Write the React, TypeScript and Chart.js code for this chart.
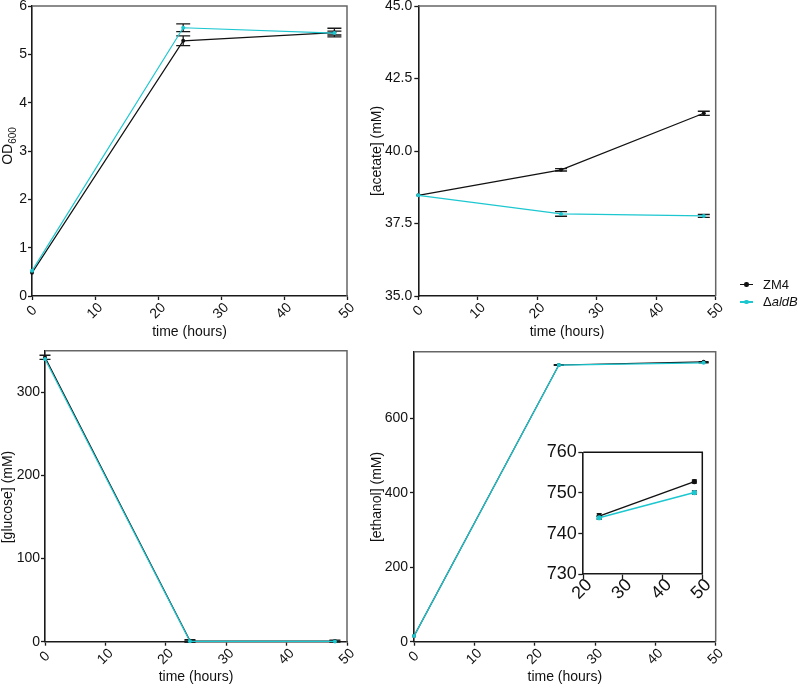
import React, { useEffect, useRef } from "react";
import { Chart, registerables } from "chart.js";

Chart.register(...registerables);

// ---------- data ----------
const TIME = [0, 24, 48];
const INSET_TIME = [24, 48];

const OD_ZM4 = [0.48, 5.28, 5.45];
const OD_ZM4_ERR = [0, 0.1, 0.09];
const OD_ALDB = [0.52, 5.55, 5.44];
const OD_ALDB_ERR = [0, 0.08, 0.04];

const ACE_ZM4 = [38.47, 39.35, 41.3];
const ACE_ZM4_ERR = [0, 0.04, 0.07];
const ACE_ALDB = [38.47, 37.83, 37.76];
const ACE_ALDB_ERR = [0, 0.08, 0.05];

const GLU_ZM4 = [342, 1.0, 0.8];
const GLU_ZM4_ERR = [2.5, 1.5, 1.0];
const GLU_ALDB = [340, 0.4, 0.3];
const GLU_ALDB_ERR = [0, 0.5, 0.4];

const ETH_ZM4 = [15, 744.3, 752.8];
const ETH_ZM4_ERR = [0, 0.8, 0.5];
const ETH_ALDB = [15, 743.9, 750.1];
const ETH_ALDB_ERR = [0, 0.6, 0.4];

const INSET_ZM4 = [744.3, 752.8];
const INSET_ZM4_ERR = [0.6, 0.4];
const INSET_ALDB = [743.9, 750.1];
const INSET_ALDB_ERR = [0.4, 0.4];

const X_TICKS = [0, 10, 20, 30, 40, 50];
const INSET_X_TICKS = [20, 30, 40, 50];
const OD_Y_TICKS = [0, 1, 2, 3, 4, 5, 6];
const ACE_Y_TICKS = [35, 37.5, 40, 42.5, 45];
const GLU_Y_TICKS = [0, 100, 200, 300];
const ETH_Y_TICKS = [0, 200, 400, 600];
const INSET_Y_TICKS = [730, 740, 750, 760];

const SERIES_NAMES = ["ZM4", "ΔaldB"];
const X_TITLE = "time (hours)";

const FONT = "'Liberation Sans', Arial, Helvetica, sans-serif";
const TEXT = "#111111";
const BLACK = "#111111";
const CYAN = "#1cc7d0";

type Series = { label: string; time: number[]; values: number[]; errors: number[]; color: string; order: number };
type Cfg = {
  canvas: { x: number; y: number; w: number; h: number };
  plot: { l: number; t: number; r: number; b: number };
  xMin: number; xMax: number; xTicks: number[];
  yMin: number; yMax: number; yTicks: number[];
  yDecimals: number;
  series: Series[];
  yTitle?: string; yTitleSub?: string; yTitleX?: number; yTitleY?: number;
  xTitle?: string; xTitleY?: number;
  fontSize: number;
  tickLen: number; yTickPad: number;
  cap: number; pointRadius: number; lineWidth: number;
  boxColor: string; xLabelDx: number; xLabelDy: number;
};

function mkSeries(time: number[], z: number[], ze: number[], a: number[], ae: number[]): Series[] {
  return [
    { label: SERIES_NAMES[0], time, values: z, errors: ze, color: BLACK, order: 1 },
    { label: SERIES_NAMES[1], time, values: a, errors: ae, color: CYAN, order: 0 },
  ];
}

const MAIN = {
  fontSize: 14, tickLen: 4, pointRadius: 2, lineWidth: 1.2, boxColor: "#666666",
  xLabelDx: 0, xLabelDy: 15, xMin: 0, xMax: 50, xTicks: X_TICKS, xTitle: X_TITLE,
};

const PANELS: Cfg[] = [
  {
    ...MAIN,
    canvas: { x: 0, y: -20, w: 370, h: 363 },
    plot: { l: 32, t: 6, r: 347, b: 296 },
    yMin: 0, yMax: 6, yTicks: OD_Y_TICKS, yDecimals: 0,
    series: mkSeries(TIME, OD_ZM4, OD_ZM4_ERR, OD_ALDB, OD_ALDB_ERR),
    yTitle: "OD", yTitleSub: "600", yTitleX: 8, yTitleY: 146, xTitleY: 332,
    yTickPad: 1, cap: 7,
  },
  {
    ...MAIN,
    canvas: { x: 360, y: -20, w: 380, h: 363 },
    plot: { l: 418.3, t: 6, r: 715.7, b: 296 },
    yMin: 35, yMax: 45, yTicks: ACE_Y_TICKS, yDecimals: 1,
    series: mkSeries(TIME, ACE_ZM4, ACE_ZM4_ERR, ACE_ALDB, ACE_ALDB_ERR),
    yTitle: "[acetate] (mM)", yTitleX: 377, yTitleY: 151, xTitleY: 332,
    yTickPad: 2, cap: 6,
  },
  {
    ...MAIN,
    canvas: { x: 0, y: 330, w: 370, h: 356 },
    plot: { l: 45, t: 350.7, r: 347, b: 641.7 },
    yMin: 0, yMax: 350, yTicks: GLU_Y_TICKS, yDecimals: 0,
    series: mkSeries(TIME, GLU_ZM4, GLU_ZM4_ERR, GLU_ALDB, GLU_ALDB_ERR),
    yTitle: "[glucose] (mM)", yTitleX: 8, yTitleY: 497, xTitleY: 677,
    yTickPad: 1, cap: 5.5,
  },
  {
    ...MAIN,
    canvas: { x: 360, y: 330, w: 380, h: 356 },
    plot: { l: 414, t: 351.7, r: 715.7, b: 641.7 },
    yMin: 0, yMax: 780, yTicks: ETH_Y_TICKS, yDecimals: 0,
    series: mkSeries(TIME, ETH_ZM4, ETH_ZM4_ERR, ETH_ALDB, ETH_ALDB_ERR),
    yTitle: "[ethanol] (mM)", yTitleX: 377, yTitleY: 497, xTitleY: 677,
    yTickPad: 2, cap: 5,
  },
  {
    canvas: { x: 530, y: 425, w: 200, h: 195 },
    plot: { l: 583.3, t: 452.3, r: 702.3, b: 574.3 },
    xMin: 20, xMax: 50, xTicks: INSET_X_TICKS,
    yMin: 730, yMax: 760, yTicks: INSET_Y_TICKS, yDecimals: 0,
    series: mkSeries(INSET_TIME, INSET_ZM4, INSET_ZM4_ERR, INSET_ALDB, INSET_ALDB_ERR),
    fontSize: 18, tickLen: 5, yTickPad: 1.5, cap: 2.5, pointRadius: 2.6, lineWidth: 1.5,
    boxColor: "#111111", xLabelDx: -1, xLabelDy: 15,
  },
];

function Panel({ cfg }: { cfg: Cfg }) {
  const ref = useRef<HTMLCanvasElement>(null);
  useEffect(() => {
    const el = ref.current;
    if (!el) return;
    const { canvas: cv, plot } = cfg;
    const datasets = cfg.series.map((s) => ({
      label: s.label,
      data: s.time.map((t, k) => ({ x: t, y: s.values[k] })),
      errors: s.errors,
      borderColor: s.color,
      backgroundColor: s.color,
      pointBackgroundColor: s.color,
      pointBorderColor: s.color,
      pointBorderWidth: 0,
      pointRadius: cfg.pointRadius,
      borderWidth: cfg.lineWidth,
      tension: 0,
      fill: false,
      clip: false,
      order: s.order,
    }));
    const font = (size: number) => `${size}px ${FONT}`;
    const decor = {
      id: "decor",
      beforeDatasetsDraw(chart: any) {
        const ctx = chart.ctx;
        const xs = chart.scales.x;
        const ys = chart.scales.y;
        ctx.save();
        ctx.strokeStyle = "#1a1a1a";
        ctx.lineWidth = 1.3;
        chart.data.datasets.forEach((ds: any) => {
          ds.data.forEach((p: any, k: number) => {
            const e = ds.errors[k];
            if (!e) return;
            const x = xs.getPixelForValue(p.x);
            const y1 = ys.getPixelForValue(p.y + e);
            const y2 = ys.getPixelForValue(p.y - e);
            ctx.beginPath();
            ctx.moveTo(x, y1); ctx.lineTo(x, y2);
            ctx.moveTo(x - cfg.cap, y1); ctx.lineTo(x + cfg.cap, y1);
            ctx.moveTo(x - cfg.cap, y2); ctx.lineTo(x + cfg.cap, y2);
            ctx.stroke();
          });
        });
        ctx.restore();
      },
      afterDraw(chart: any) {
        const ctx = chart.ctx;
        const a = chart.chartArea;
        const xs = chart.scales.x;
        ctx.save();
        // top and right frame
        ctx.strokeStyle = cfg.boxColor;
        ctx.lineWidth = 1.5;
        ctx.beginPath();
        ctx.moveTo(a.left, a.top);
        ctx.lineTo(a.right, a.top);
        ctx.lineTo(a.right, a.bottom);
        ctx.stroke();
        // rotated x tick labels, centred under each tick
        ctx.fillStyle = TEXT;
        ctx.font = font(cfg.fontSize);
        ctx.textAlign = "center";
        ctx.textBaseline = "middle";
        xs.ticks.forEach((t: any) => {
          const px = xs.getPixelForValue(t.value);
          ctx.save();
          ctx.translate(px + cfg.xLabelDx, a.bottom + cfg.xLabelDy);
          ctx.rotate(-Math.PI / 4);
          ctx.fillText(String(t.value), 0, 0);
          ctx.restore();
        });
        // x title
        if (cfg.xTitle && cfg.xTitleY !== undefined) {
          ctx.fillText(cfg.xTitle, (a.left + a.right) / 2, cfg.xTitleY - cv.y);
        }
        // y title
        if (cfg.yTitle && cfg.yTitleX !== undefined && cfg.yTitleY !== undefined) {
          ctx.save();
          ctx.translate(cfg.yTitleX - cv.x, cfg.yTitleY - cv.y);
          ctx.rotate(-Math.PI / 2);
          if (cfg.yTitleSub) {
            ctx.font = font(cfg.fontSize);
            const w1 = ctx.measureText(cfg.yTitle).width;
            ctx.font = font(10);
            const w2 = ctx.measureText(cfg.yTitleSub).width;
            const start = -(w1 + w2) / 2;
            ctx.textAlign = "left";
            ctx.font = font(cfg.fontSize);
            ctx.fillText(cfg.yTitle, start, 0);
            ctx.font = font(10);
            ctx.fillText(cfg.yTitleSub, start + w1, 5);
          } else {
            ctx.fillText(cfg.yTitle, 0, 0);
          }
          ctx.restore();
        }
        ctx.restore();
      },
    };
    const gridOpts = {
      drawOnChartArea: false,
      drawTicks: true,
      tickLength: cfg.tickLen,
      tickColor: "#1a1a1a",
      tickWidth: 1.3,
    };
    const chart = new Chart(el, {
      type: "line",
      data: { datasets: datasets as any },
      options: {
        animation: false,
        responsive: false,
        maintainAspectRatio: false,
        devicePixelRatio: 1,
        events: [],
        layout: {
          padding: { left: 0, top: plot.t - cv.y, right: cv.x + cv.w - plot.r, bottom: 0 },
        },
        plugins: { legend: { display: false }, tooltip: { enabled: false } },
        scales: {
          x: {
            type: "linear",
            min: cfg.xMin,
            max: cfg.xMax,
            bounds: "data",
            ticks: { display: false },
            grid: gridOpts,
            border: { display: true, color: "#1a1a1a", width: 1.6 },
            afterBuildTicks: (s: any) => { s.ticks = cfg.xTicks.map((v) => ({ value: v })); },
            afterFit: (s: any) => { s.height = cv.y + cv.h - plot.b; },
          },
          y: {
            type: "linear",
            min: cfg.yMin,
            max: cfg.yMax,
            bounds: "data",
            ticks: {
              padding: cfg.yTickPad,
              color: TEXT,
              autoSkip: false,
              font: { family: FONT, size: cfg.fontSize },
              callback: (v: any) => Number(v).toFixed(cfg.yDecimals),
            },
            grid: gridOpts,
            border: { display: true, color: "#1a1a1a", width: 1.6 },
            afterBuildTicks: (s: any) => { s.ticks = cfg.yTicks.map((v) => ({ value: v })); },
            afterFit: (s: any) => { s.width = plot.l - cv.x; },
          },
        },
      } as any,
      plugins: [decor],
    });
    return () => chart.destroy();
  }, []);
  const { canvas: cv } = cfg;
  return (
    <canvas
      ref={ref}
      width={cv.w}
      height={cv.h}
      style={{ position: "absolute", left: cv.x, top: cv.y, width: cv.w, height: cv.h, display: "block" }}
    />
  );
}

function LegendRow({ y, color, children }: { y: number; color: string; children: React.ReactNode }) {
  return (
    <>
      <div style={{ position: "absolute", left: 740, top: y - 0.7, width: 13, height: 1.4, background: color }} />
      <div style={{ position: "absolute", left: 744.2, top: y - 2.2, width: 4.4, height: 4.4, borderRadius: "50%", background: color }} />
      <div
        style={{
          position: "absolute", left: 763, top: y - 9, height: 18, lineHeight: "18px",
          fontFamily: FONT, fontSize: 13, color: TEXT, whiteSpace: "nowrap",
        }}
      >
        {children}
      </div>
    </>
  );
}

export default function App() {
  return (
    <div style={{ position: "absolute", left: 0, top: 0, width: 800, height: 686, overflow: "hidden", background: "#fff" }}>
      {PANELS.map((p, i) => (
        <Panel key={i} cfg={p} />
      ))}
      <LegendRow y={284.5} color={BLACK}>{SERIES_NAMES[0]}</LegendRow>
      <LegendRow y={302} color={CYAN}>
        <span>Δ</span>
        <span style={{ fontStyle: "italic" }}>{SERIES_NAMES[1].slice(1)}</span>
      </LegendRow>
    </div>
  );
}
